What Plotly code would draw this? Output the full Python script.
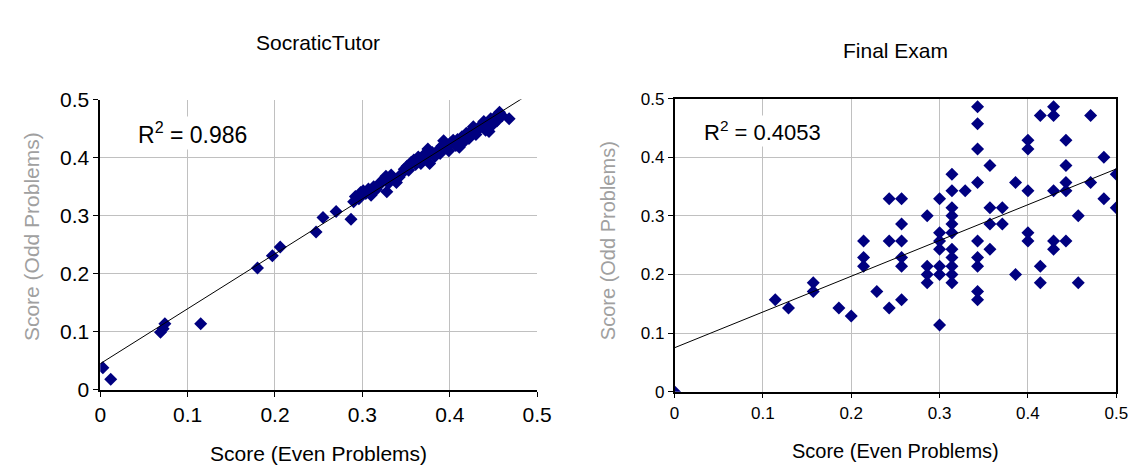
import plotly.graph_objects as go

# ---------------- data ----------------
tutor_even = [0.003, 0.012, 0.069, 0.072, 0.074, 0.115, 0.180, 0.197, 0.206, 0.247, 0.255, 0.270, 0.287,
              0.290, 0.292, 0.296, 0.298, 0.301, 0.304, 0.307, 0.310, 0.313, 0.316, 0.319, 0.321, 0.324,
              0.327, 0.328, 0.330, 0.333, 0.336, 0.339, 0.342, 0.345, 0.348, 0.351, 0.353, 0.356, 0.359,
              0.361, 0.364, 0.367, 0.370, 0.372, 0.375, 0.377, 0.380, 0.383, 0.386, 0.389, 0.391, 0.393,
              0.396, 0.399, 0.401, 0.404, 0.407, 0.409, 0.411, 0.414, 0.417, 0.419, 0.422, 0.425, 0.427,
              0.430, 0.433, 0.436, 0.439, 0.441, 0.443, 0.445, 0.447, 0.450, 0.452, 0.454, 0.457, 0.460,
              0.468]
tutor_odd = [0.038, 0.018, 0.099, 0.105, 0.114, 0.114, 0.210, 0.231, 0.246, 0.272, 0.297, 0.307, 0.294,
             0.324, 0.333, 0.329, 0.340, 0.343, 0.338, 0.346, 0.335, 0.350, 0.345, 0.352, 0.358, 0.362,
             0.368, 0.341, 0.356, 0.370, 0.363, 0.357, 0.366, 0.372, 0.380, 0.385, 0.378, 0.392, 0.396,
             0.388, 0.401, 0.390, 0.404, 0.398, 0.415, 0.390, 0.409, 0.402, 0.412, 0.407, 0.420, 0.429,
             0.418, 0.412, 0.425, 0.430, 0.421, 0.431, 0.418, 0.436, 0.428, 0.442, 0.433, 0.447, 0.453,
             0.440, 0.449, 0.456, 0.462, 0.447, 0.459, 0.445, 0.467, 0.458, 0.470, 0.463, 0.478, 0.472,
             0.467]

exam_even = [0.000, 0.114, 0.129, 0.157, 0.157, 0.186, 0.200, 0.214, 0.214, 0.214, 0.229,
             0.243, 0.243, 0.243, 0.257, 0.257, 0.257, 0.257, 0.257, 0.257,
             0.286, 0.286, 0.286, 0.286, 0.300, 0.300, 0.300, 0.300, 0.300, 0.300, 0.300,
             0.314, 0.314, 0.314, 0.314, 0.314, 0.314, 0.314, 0.314, 0.314, 0.314, 0.314,
             0.329, 0.343, 0.343, 0.343, 0.343, 0.343, 0.343, 0.343, 0.343, 0.343,
             0.357, 0.357, 0.357, 0.357, 0.371, 0.371, 0.386, 0.386,
             0.400, 0.400, 0.400, 0.400, 0.400, 0.414, 0.414, 0.414,
             0.429, 0.429, 0.429, 0.429, 0.429, 0.443, 0.443, 0.443, 0.443, 0.443,
             0.457, 0.457, 0.471, 0.471, 0.486, 0.486, 0.500, 0.500]
exam_odd = [0.000, 0.157, 0.143, 0.186, 0.171, 0.143, 0.129, 0.257, 0.229, 0.214, 0.171,
            0.329, 0.257, 0.143, 0.329, 0.286, 0.257, 0.229, 0.214, 0.157,
            0.300, 0.214, 0.200, 0.186, 0.329, 0.271, 0.257, 0.243, 0.214, 0.200, 0.114,
            0.371, 0.343, 0.314, 0.300, 0.286, 0.271, 0.243, 0.229, 0.214, 0.200, 0.186,
            0.343, 0.486, 0.457, 0.414, 0.357, 0.257, 0.229, 0.214, 0.171, 0.157,
            0.386, 0.314, 0.286, 0.243, 0.314, 0.286, 0.357, 0.200,
            0.429, 0.414, 0.343, 0.271, 0.257, 0.471, 0.214, 0.186,
            0.486, 0.471, 0.343, 0.257, 0.243, 0.429, 0.386, 0.357, 0.343, 0.257,
            0.300, 0.186, 0.471, 0.357, 0.400, 0.329, 0.371, 0.314]

# linear trend lines: [intercept, slope]
tutor_trend = [0.045, 0.946]
exam_trend = [0.075, 0.610]
trend_x = [0.0, 0.5]

titles = ["SocraticTutor", "Final Exam"]
r2_labels = ["R<sup>2</sup> = 0.986", "R<sup>2</sup> = 0.4053"]
tick_vals = [0, 0.1, 0.2, 0.3, 0.4, 0.5]
tick_text = ["0", "0.1", "0.2", "0.3", "0.4", "0.5"]

# ---------------- figure ----------------
W, H = 1146, 476
FONT = "Arial, Liberation Sans, sans-serif"
NAVY = "#000080"
GRID = "#c0c0c0"

fig = go.Figure()

def px_x(p):
    return p / W

def px_y(p):
    return 1 - p / H

for xs, ys, trend, ax in [(tutor_even, tutor_odd, tutor_trend, ""), (exam_even, exam_odd, exam_trend, "2")]:
    fig.add_trace(go.Scatter(
        x=xs, y=ys, mode="markers",
        marker=dict(symbol="diamond", color=NAVY, size=10, line=dict(width=0)),
        xaxis="x" + ax, yaxis="y" + ax, showlegend=False, hoverinfo="x+y"))
    ty = [trend[0] + trend[1] * t for t in trend_x]
    fig.add_trace(go.Scatter(
        x=trend_x, y=ty, mode="lines", line=dict(color="black", width=1),
        xaxis="x" + ax, yaxis="y" + ax, showlegend=False, hoverinfo="skip"))

common = dict(range=[0, 0.5], tickvals=tick_vals, ticktext=tick_text, showgrid=True,
              gridcolor=GRID, gridwidth=1, zeroline=False, ticks="outside", ticklen=5,
              tickcolor="black", fixedrange=True)

fig.update_layout(
    width=W, height=H,
    margin=dict(l=0, r=0, t=0, b=0),
    paper_bgcolor="white", plot_bgcolor="white",
    font=dict(family=FONT, color="black"),
    xaxis=dict(domain=[px_x(96), px_x(541)], anchor="y", showline=True, linecolor="black",
               linewidth=1.5, tickfont=dict(size=21), **common),
    yaxis=dict(domain=[px_y(397), px_y(92)], anchor="x", showline=True, linecolor="black",
               linewidth=1.5, tickfont=dict(size=21), **common),
    xaxis2=dict(domain=[px_x(681), px_x(1131)], anchor="y2", showline=True, linecolor="black",
                linewidth=1.5, mirror=True, tickfont=dict(size=17), **common),
    yaxis2=dict(domain=[px_y(399), px_y(91)], anchor="x2", showline=True, linecolor="black",
                linewidth=1.5, mirror=True, tickfont=dict(size=17), **common),
)

ann = []
# chart titles
ann.append(dict(text=titles[0], x=px_x(318), y=px_y(32), font=dict(size=21)))
ann.append(dict(text=titles[1], x=px_x(906), y=px_y(40), font=dict(size=21)))
# x titles
ann.append(dict(text="Score (Even Problems)", x=px_x(318), y=px_y(464), font=dict(size=21)))
ann.append(dict(text="Score (Even Problems)", x=px_x(906), y=px_y(461), font=dict(size=20)))
# y titles (gray)
ann.append(dict(text="Score (Odd Problems)", x=px_x(26), y=px_y(236), textangle=-90,
                font=dict(size=21, color="#a0a0a0")))
ann.append(dict(text="Score (Odd Problems)", x=px_x(614), y=px_y(240), textangle=-90,
                font=dict(size=20, color="#a0a0a0")))
# R^2 labels
ann.append(dict(text=r2_labels[0], x=px_x(190), y=px_y(127), font=dict(size=23), bgcolor="white"))
ann.append(dict(text=r2_labels[1], x=px_x(771), y=px_y(125), font=dict(size=22), bgcolor="white"))

for a in ann:
    a.update(xref="paper", yref="paper", showarrow=False, xanchor="center", yanchor="middle")
fig.update_layout(annotations=ann)

fig.write_html("out.html", config={"displayModeBar": False},
               post_script="document.body.style.margin='0';document.body.style.overflow='hidden';")
